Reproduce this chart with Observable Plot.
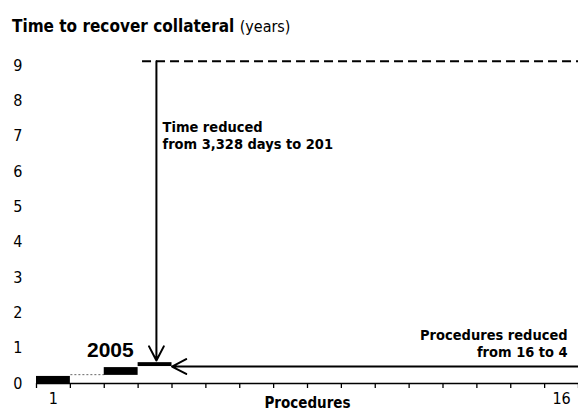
<!DOCTYPE html>
<html><head><meta charset="utf-8">
<script src="https://cdn.jsdelivr.net/npm/d3@7"></script>
<script src="https://cdn.jsdelivr.net/npm/@observablehq/plot@0.6"></script>
<style>
body{margin:0;background:#fff;width:578px;height:416px;overflow:hidden;font-family:"DejaVu Sans Condensed","DejaVu Sans",sans-serif;font-stretch:condensed;}
#title{height:40px;box-sizing:border-box;padding:16px 0 0 12px;font-size:17px;font-weight:bold;line-height:20px;white-space:nowrap;color:#000}
#title span{font-weight:normal;font-size:16px}
</style></head><body>
<div id="title">Time to recover collateral <span>(years)</span></div>
<div id="chart"></div>
<script>
// Y axis ticks (years)
const yTicks = [0, 1, 2, 3, 4, 5, 6, 7, 8, 9];
// procedure band boundaries (band i spans i-1..i)
const procedureBounds = [0, 1, 2, 3, 4, 5, 6, 7, 8, 9, 10, 11, 12, 13, 14, 15, 16];
const procedureLabels = ["1", "16"];
const procedureLabelPos = [0.5, 15.5];

// 2005 steps (after reform): procedure band start/end and years low/high
const stepStart = [0, 2, 3];
const stepEnd = [1, 3, 4];
const stepLow = [0, 0.23, 0.48];
const stepHigh = [0.2, 0.45, 0.59];
// dotted connector between step 1 and 2
const connectorFrom = [1];
const connectorTo = [2];
const connectorYears = [0.25];

// before: 3,328 days in years
const beforeYears = [9.12];
const beforeFrom = [3.13];
const beforeTo = [16];
// after: 201 days
const afterYears = [0.65];
const timeArrowX = [3.54];
// procedures reduced 16 -> 4
const procArrowFrom = [16];
const procArrowTo = [4];
const procArrowYears = [0.48];

const annotations = ["Time reduced\nfrom 3,328 days to 201", "Procedures reduced\nfrom 16 to 4"];
const yearLabel = ["2005"];

const FONT = '"DejaVu Sans Condensed","DejaVu Sans",sans-serif';
const labelMap = new Map(procedureLabelPos.map((p, i) => [p, procedureLabels[i]]));

const steps = stepStart.map((s, i) => ({x1: s, x2: stepEnd[i], y1: stepLow[i], y2: stepHigh[i]}));
const connectors = connectorFrom.map((s, i) => ({x1: s, x2: connectorTo[i], y: connectorYears[i]}));
const before = beforeYears.map((y, i) => ({y, x1: beforeFrom[i], x2: beforeTo[i]}));
const timeArrow = timeArrowX.map((x, i) => ({x, y1: beforeYears[i], y2: afterYears[i]}));
const procArrow = procArrowFrom.map((x, i) => ({x1: x, x2: procArrowTo[i], y: procArrowYears[i]}));

const chart = Plot.plot({
  width: 578,
  height: 376,
  marginLeft: 36,
  marginRight: 0,
  marginTop: 25,
  marginBottom: 33,
  x: {domain: [0, 16]},
  y: {domain: [0, 9]},
  style: {fontFamily: FONT, fontSize: "16px", color: "#000", background: "#fff", overflow: "visible"},
  marks: [
    Plot.axisY({ticks: yTicks, tickSize: 0, tickPadding: 14, fontSize: 16, label: null}),
    Plot.axisX({ticks: procedureBounds, tickSize: 5, tickFormat: () => "", label: null, strokeWidth: 1.3}),
    Plot.axisX({ticks: procedureLabelPos, tickSize: 0, tickPadding: 9, tickFormat: d => labelMap.get(d), label: null, fontSize: 16}),
    Plot.ruleY([0], {stroke: "#000", strokeWidth: 1.5}),
    Plot.link(connectors, {x1: "x1", x2: "x2", y1: "y", y2: "y", stroke: "#666", strokeWidth: 1, strokeDasharray: "2,2"}),
    Plot.rect(steps, {x1: "x1", x2: "x2", y1: "y1", y2: "y2", fill: "#000"}),
    Plot.ruleY(before, {y: "y", x1: "x1", x2: "x2", stroke: "#000", strokeWidth: 2, strokeDasharray: "9,5"}),
    Plot.arrow(timeArrow, {x1: "x", x2: "x", y1: "y1", y2: "y2", stroke: "#000", strokeWidth: 2, headLength: 12, headAngle: 55}),
    Plot.arrow(procArrow, {x1: "x1", x2: "x2", y1: "y", y2: "y", stroke: "#000", strokeWidth: 2, headLength: 12, headAngle: 55}),
    Plot.text([annotations[0]], {x: 3.72, y: 7.47, text: d => d, textAnchor: "start", lineAnchor: "top", lineHeight: 1.18, fontSize: 14.5, fontWeight: "bold", fill: "#000"}),
    Plot.text([annotations[1]], {x: 15.68, y: 1.57, text: d => d, textAnchor: "end", lineAnchor: "top", lineHeight: 1.18, fontSize: 14.5, fontWeight: "bold", fill: "#000"}),
    Plot.text(yearLabel, {x: 2.18, y: 0.95, text: d => d, fontSize: 21, fontWeight: "bold", fontFamily: '"Liberation Sans","DejaVu Sans",sans-serif', fill: "#000"}),
    Plot.text(["Procedures"], {frameAnchor: "bottom", dy: 24.5, fontSize: 15, fontWeight: "bold", fill: "#000"})
  ]
});
document.getElementById("chart").appendChild(chart);
</script></body></html>
